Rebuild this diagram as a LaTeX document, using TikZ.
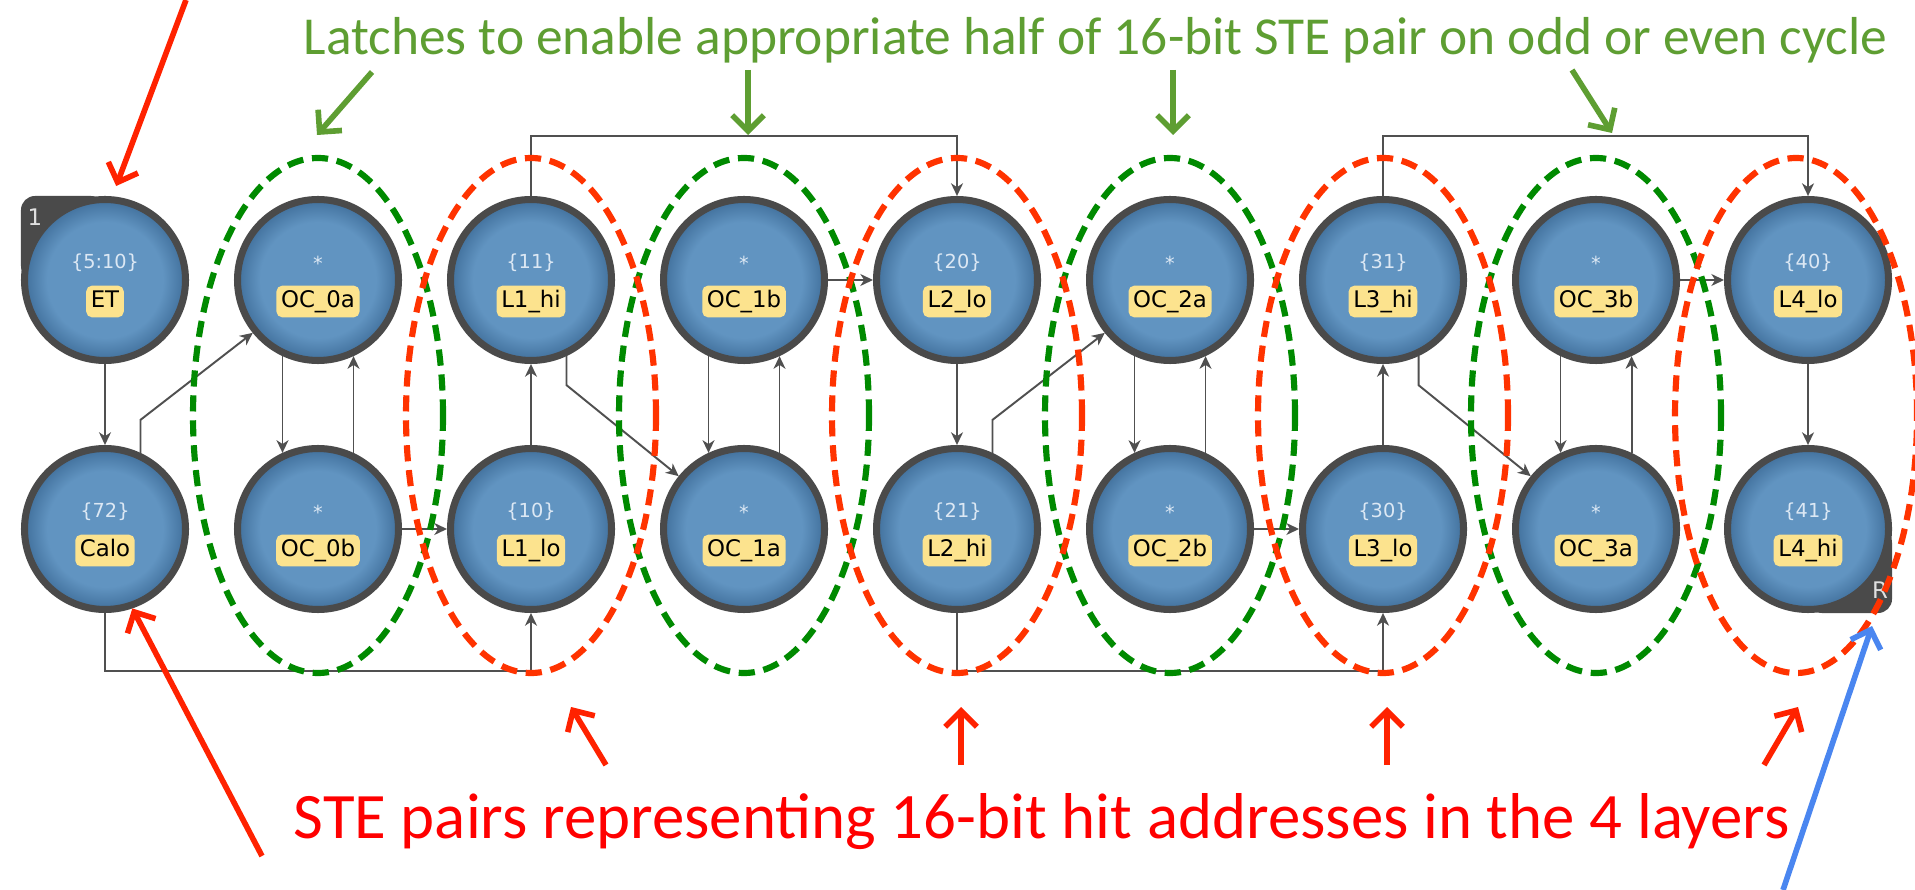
\documentclass[tikz,border=0pt]{standalone}
\usepackage{fontspec}
\setmainfont{Carlito}
\newfontfamily\stefont{DejaVu Sans}
\usepackage{xcolor}
\definecolor{RingGrey}{HTML}{4A4A4A}
\definecolor{BlueMid}{HTML}{6194C1}
\definecolor{BlueEdge}{HTML}{41709C}
\definecolor{TagYellow}{HTML}{FCE38E}
\definecolor{ValText}{HTML}{DCE8F4}
\definecolor{WireGrey}{HTML}{505050}
\definecolor{LatchGreen}{HTML}{008A00}
\definecolor{PairRed}{HTML}{FF3300}
\definecolor{ArrowRed}{HTML}{FF2200}
\definecolor{NoteGreen}{HTML}{5E9E32}
\definecolor{NoteRed}{HTML}{FF0000}
\definecolor{NoteBlue}{HTML}{4A86F0}
\usepackage{tikz}
\usetikzlibrary{calc,backgrounds,arrows.meta}
\pgfdeclareradialshading{stefill}{\pgfpoint{0bp}{0bp}}{color(0bp)=(BlueMid); color(18bp)=(BlueMid); color(25bp)=(BlueEdge); color(50bp)=(BlueEdge)}

\begin{document}
\begin{tikzpicture}[
  ste/.style={circle, minimum size=1.61cm, inner sep=0pt, line width=2pt,
              draw=RingGrey, shade, shading=stefill},
  valtxt/.style={text=ValText, font=\stefont\fontsize{5.5}{6}\selectfont,
                 inner sep=0pt, yshift=0.17cm},
  tagbox/.style={fill=TagYellow, text=black, font=\stefont\fontsize{6.5}{7}\selectfont,
                 rounded corners=1.6pt, inner xsep=1.3pt, inner ysep=1.1pt,
                 text height=5.1pt, text depth=1.7pt, yshift=-0.215cm},
  val/.style={label={[valtxt]center:#1}},
  tag/.style={label={[tagbox]center:#1}},
  badgetxt/.style={text=white!88!black, font=\stefont\fontsize{6.5}{7}\selectfont, inner sep=0pt},
  wire/.style={draw=WireGrey, line width=0.55pt, -{Stealth[length=3.6pt, width=3.4pt, inset=1.1pt]}},
  latchring/.style={draw=LatchGreen, line width=1.75pt, dash pattern=on 4.6pt off 2.5pt},
  pairring/.style={latchring, draw=PairRed},
  noteline/.style={line width=1.6pt, -{Straight Barb[length=4.5pt, width=9pt]}},
  redarr/.style={noteline, draw=ArrowRed},
  grnarr/.style={noteline, draw=NoteGreen},
  bluarr/.style={noteline, draw=NoteBlue},
  latchtxt/.style={text=NoteGreen, font=\fontsize{15.2}{18}\selectfont, inner sep=0pt},
  hittxt/.style={text=NoteRed, font=\fontsize{18.45}{22}\selectfont, inner sep=0pt},
]
  \useasboundingbox (0,0) rectangle (19.15,-8.90);

  % STE nodes
  \node[ste, val={\{5:10\}}, tag=ET] (et) at (1.05,-2.80) {};
  \node[ste, val={\{72\}}, tag=Calo] (calo) at (1.05,-5.29) {};
  \node[ste, val=*, tag=OC\_0a] (oc0a) at (3.18,-2.80) {};
  \node[ste, val=*, tag=OC\_0b] (oc0b) at (3.18,-5.29) {};
  \node[ste, val={\{11\}}, tag=L1\_hi] (l1hi) at (5.31,-2.80) {};
  \node[ste, val={\{10\}}, tag=L1\_lo] (l1lo) at (5.31,-5.29) {};
  \node[ste, val=*, tag=OC\_1b] (oc1b) at (7.44,-2.80) {};
  \node[ste, val=*, tag=OC\_1a] (oc1a) at (7.44,-5.29) {};
  \node[ste, val={\{20\}}, tag=L2\_lo] (l2lo) at (9.57,-2.80) {};
  \node[ste, val={\{21\}}, tag=L2\_hi] (l2hi) at (9.57,-5.29) {};
  \node[ste, val=*, tag=OC\_2a] (oc2a) at (11.70,-2.80) {};
  \node[ste, val=*, tag=OC\_2b] (oc2b) at (11.70,-5.29) {};
  \node[ste, val={\{31\}}, tag=L3\_hi] (l3hi) at (13.83,-2.80) {};
  \node[ste, val={\{30\}}, tag=L3\_lo] (l3lo) at (13.83,-5.29) {};
  \node[ste, val=*, tag=OC\_3b] (oc3b) at (15.96,-2.80) {};
  \node[ste, val=*, tag=OC\_3a] (oc3a) at (15.96,-5.29) {};
  \node[ste, val={\{40\}}, tag=L4\_lo] (l4lo) at (18.08,-2.80) {};
  \node[ste, val={\{41\}}, tag=L4\_hi] (l4hi) at (18.08,-5.29) {};

  % start / report badges
  \node[badgetxt] (etid) at ($(et)+(-0.70,0.63)$) {1};
  \node[badgetxt] (l4rep) at ($(l4hi)+(0.72,-0.61)$) {R};
  \begin{scope}[on background layer]
    \fill[white] (0,0) rectangle (19.15,-8.90);
    \fill[RingGrey, rounded corners=4pt] (et.center) -- (et.west) |- (et.north) -- cycle;
    \fill[RingGrey, rounded corners=4pt] (l4hi.center) -- (l4hi.east) |- (l4hi.south) -- cycle;
  \end{scope}

  % Wires
  \draw[wire] (et) -- (calo);
  \draw[wire] (calo.65) -- ++(0,0.33) -- (oc0a.219);
  \draw[wire] (oc0a.245) -- (oc0b.115);
  \draw[wire] (oc0b.65) -- (oc0a.295);
  \draw[wire] (oc0b) -- (l1lo);
  \draw[wire] (l1lo) -- (l1hi);
  \draw[wire] (calo.south) -- ++(0,-0.58) -| (l1lo.south);
  \draw[wire] (l1hi.north) -- ++(0,0.60) -| (l2lo.north);
  \draw[wire] (l1hi.-65) -- ++(0,-0.29) -- (oc1a.141);
  \draw[wire] (oc1b.245) -- (oc1a.115);
  \draw[wire] (oc1a.65) -- (oc1b.295);
  \draw[wire] (oc1b) -- (l2lo);
  \draw[wire] (l2lo) -- (l2hi);
  \draw[wire] (l2hi.65) -- ++(0,0.33) -- (oc2a.219);
  \draw[wire] (l2hi.south) -- ++(0,-0.58) -| (l3lo.south);
  \draw[wire] (oc2a.245) -- (oc2b.115);
  \draw[wire] (oc2b.65) -- (oc2a.295);
  \draw[wire] (oc2b) -- (l3lo);
  \draw[wire] (l3lo) -- (l3hi);
  \draw[wire] (l3hi.north) -- ++(0,0.60) -| (l4lo.north);
  \draw[wire] (l3hi.-65) -- ++(0,-0.29) -- (oc3a.141);
  \draw[wire] (oc3b.245) -- (oc3a.115);
  \draw[wire] (oc3a.65) -- (oc3b.295);
  \draw[wire] (oc3b) -- (l4lo);
  \draw[wire] (l4lo) -- (l4hi);

  % Latch and pair rings
  \draw[latchring] ($(oc0a)!.5!(oc0b)+(0,-0.11)$) ellipse (1.25 and 2.575);
  \draw[latchring] ($(oc1b)!.5!(oc1a)+(0,-0.11)$) ellipse (1.25 and 2.575);
  \draw[latchring] ($(oc2a)!.5!(oc2b)+(0,-0.11)$) ellipse (1.25 and 2.575);
  \draw[latchring] ($(oc3b)!.5!(oc3a)+(0,-0.11)$) ellipse (1.25 and 2.575);
  \draw[pairring] ($(l1hi)!.5!(l1lo)+(0,-0.11)$) ellipse (1.25 and 2.575);
  \draw[pairring] ($(l2lo)!.5!(l2hi)+(0,-0.11)$) ellipse (1.25 and 2.575);
  \draw[pairring] ($(l3hi)!.5!(l3lo)+(0,-0.11)$) ellipse (1.25 and 2.575);
  \draw[pairring] ($(l4lo)!.5!(l4hi)+(-0.12,-0.11)$) ellipse (1.21 and 2.575);

  % Notes
  \node[latchtxt, anchor=base west] (latchnote) at (3.03,-0.55)
    {Latches to enable appropriate half of 16-bit STE pair on odd or even cycle};
  \node[hittxt, anchor=base west] (hitnote) at (2.93,-8.38)
    {STE pairs representing 16-bit hit addresses in the 4 layers};

  \coordinate (etsrc) at (1.86,0);
  \coordinate (calosrc) at (2.62,-8.56);
  \coordinate (pair1src) at (6.06,-7.65);
  \coordinate (pair1tip) at (5.71,-7.07);
  \coordinate (pair2src) at (9.61,-7.65);
  \coordinate (pair2tip) at (9.61,-7.07);
  \coordinate (pair3src) at (13.87,-7.65);
  \coordinate (pair3tip) at (13.87,-7.07);
  \coordinate (pair4src) at (17.64,-7.65);
  \coordinate (pair4tip) at (17.98,-7.07);
  \coordinate (latch0src) at (3.72,-0.72);
  \coordinate (latch0tip) at (3.17,-1.35);
  \coordinate (latch1src) at (7.48,-0.70);
  \coordinate (latch1tip) at (7.48,-1.35);
  \coordinate (latch2src) at (11.73,-0.70);
  \coordinate (latch2tip) at (11.73,-1.35);
  \coordinate (latch3src) at (15.72,-0.70);
  \coordinate (latch3tip) at (16.12,-1.33);
  \coordinate (repsrc) at (17.83,-8.90);
  \coordinate (reptip) at (18.72,-6.26);

  \draw[redarr, shorten >=0.11cm] (etsrc) -- (et.85);
  \draw[redarr] (calosrc) -- (calo.-71);
  \draw[redarr] (pair1src) -- (pair1tip);
  \draw[redarr] (pair2src) -- (pair2tip);
  \draw[redarr] (pair3src) -- (pair3tip);
  \draw[redarr] (pair4src) -- (pair4tip);
  \draw[grnarr] (latch0src) -- (latch0tip);
  \draw[grnarr] (latch1src) -- (latch1tip);
  \draw[grnarr] (latch2src) -- (latch2tip);
  \draw[grnarr] (latch3src) -- (latch3tip);
  \draw[bluarr] (repsrc) -- (reptip);
\end{tikzpicture}
\end{document}
